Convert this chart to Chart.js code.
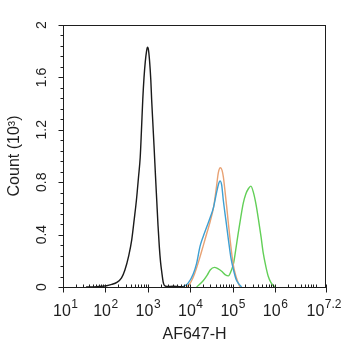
<!DOCTYPE html>
<html>
<head>
<meta charset="utf-8">
<script src="https://cdn.jsdelivr.net/npm/chart.js@4.4.1/dist/chart.umd.min.js"></script>
<style>
  html, body { margin: 0; padding: 0; background: #fff; }
  #wrap { width: 342px; height: 350px; position: relative; }
</style>
</head>
<body>
<div id="wrap"><canvas id="c" width="342" height="350"></canvas></div>
<script>
// ---- Data (AF647-H fluorescence vs count, in thousands) ----
const xTickExponents = ['1', '2', '3', '4', '5', '6', '7.2'];
const yTickLabels = ['0', '0.4', '0.8', '1.2', '1.6', '2'];
const xTitle = 'AF647-H';
const yTitle = 'Count (10³)';

const blackX = [35, 63, 107, 141, 186, 240, 288, 355, 417, 479, 537, 603, 661, 708, 759, 813, 871, 933, 977, 1023, 1096, 1175, 1230, 1318, 1413, 1514, 1622, 1738, 1862, 1995, 2138, 2291, 2455, 2818, 3981, 5012, 7079];
const blackY = [0, 0.003, 0.01, 0.02, 0.035, 0.07, 0.13, 0.24, 0.36, 0.52, 0.66, 0.84, 0.99, 1.2, 1.43, 1.6, 1.72, 1.8, 1.83, 1.82, 1.73, 1.58, 1.43, 1.24, 1.05, 0.85, 0.66, 0.47, 0.31, 0.19, 0.11, 0.04, 0.012, 0.004, 0.006, 0.004, 0];

const orangeX = [8318, 10000, 12589, 16982, 20417, 24547, 29512, 35481, 41687, 45709, 51286, 56234, 60256, 66069, 72444, 79433, 87096, 95499, 104713, 117490, 128825, 147911];
const orangeY = [0, 0.03, 0.1, 0.23, 0.32, 0.41, 0.5, 0.61, 0.77, 0.87, 0.91, 0.89, 0.84, 0.73, 0.61, 0.48, 0.36, 0.25, 0.16, 0.09, 0.05, 0];

const blueX = [6607, 8913, 11749, 14125, 16982, 20417, 24547, 29512, 35481, 41687, 46774, 50119, 54954, 60256, 69183, 79433, 91201, 104713, 120226, 134896, 162181];
const blueY = [0, 0.03, 0.1, 0.18, 0.31, 0.39, 0.46, 0.53, 0.61, 0.72, 0.79, 0.81, 0.78, 0.66, 0.51, 0.36, 0.22, 0.13, 0.06, 0.03, 0];

const greenX = [14125, 20417, 25119, 29512, 37154, 44668, 54954, 66069, 79433, 91201, 104713, 117490, 134896, 154882, 177828, 204174, 234423, 269153, 309030, 354813, 407380, 467735, 524807, 602560, 691831, 794328, 912011, 1000000];
const greenY = [0, 0.05, 0.09, 0.13, 0.15, 0.14, 0.12, 0.095, 0.085, 0.12, 0.18, 0.28, 0.41, 0.53, 0.64, 0.71, 0.75, 0.77, 0.72, 0.63, 0.51, 0.38, 0.26, 0.16, 0.08, 0.035, 0.01, 0];

const toPts = (xs, ys) => xs.map((v, i) => ({ x: v, y: ys[i] }));

const FONT = '"Liberation Sans", Arial, sans-serif';
const INK = '#1e1e1e';

const decorPlugin = {
  id: 'decor',
  afterDraw(chart) {
    const { ctx, chartArea: a, scales: { x, y } } = chart;
    ctx.save();
    ctx.strokeStyle = INK;
    ctx.lineWidth = 1;
    // frame
    ctx.strokeRect(Math.round(a.left) + 0.5, Math.round(a.top) + 0.5,
                   Math.round(a.right - a.left) - 1, Math.round(a.bottom - a.top));
    const bY = Math.round(a.bottom) + 0.5;
    const lX = Math.round(a.left) + 0.5;
    ctx.beginPath();
    // x ticks
    const xmax = x.max;
    xTickExponents.forEach(e => {
      const px = Math.round(x.getPixelForValue(Math.pow(10, parseFloat(e)))) + 0.5;
      ctx.moveTo(px, bY - 3); ctx.lineTo(px, bY + 5);
    });
    for (let n = 1; n <= 7; n++) {
      for (let k = 2; k <= 9; k++) {
        const v = k * Math.pow(10, n);
        if (v >= xmax) continue;
        const px = Math.round(x.getPixelForValue(v)) + 0.5;
        ctx.moveTo(px, bY - 3); ctx.lineTo(px, bY);
      }
    }
    // y ticks
    yTickLabels.forEach(t => {
      const py = Math.round(y.getPixelForValue(parseFloat(t))) + 0.5;
      ctx.moveTo(lX - 5, py); ctx.lineTo(lX, py);
    });
    for (let i = 1; i < 25; i++) {
      if (i % 5 === 0) continue;
      const py = Math.round(y.getPixelForValue(i * 0.08)) + 0.5;
      ctx.moveTo(lX - 3, py); ctx.lineTo(lX, py);
    }
    ctx.stroke();

    // x tick labels with superscripts
    ctx.fillStyle = INK;
    ctx.textBaseline = 'alphabetic';
    ctx.textAlign = 'left';
    xTickExponents.forEach(e => {
      const px = x.getPixelForValue(Math.pow(10, parseFloat(e)));
      ctx.font = '16px ' + FONT;
      const w1 = ctx.measureText('10').width;
      ctx.font = '12px ' + FONT;
      const w2 = ctx.measureText(e).width;
      let sx = px - (w1 + w2) / 2;
      if (sx < 53) sx = 53;
      if (sx + w1 + w2 > 341) sx = 341 - w1 - w2;
      ctx.font = '16px ' + FONT;
      ctx.fillText('10', sx, 316);
      ctx.font = '12px ' + FONT;
      ctx.fillText(e, sx + w1 + 0.5, 308);
    });

    // y tick labels rotated
    ctx.font = '14px ' + FONT;
    ctx.textAlign = 'center';
    ctx.textBaseline = 'middle';
    yTickLabels.forEach(t => {
      const py = y.getPixelForValue(parseFloat(t));
      ctx.save();
      ctx.translate(42, py);
      ctx.rotate(-Math.PI / 2);
      ctx.fillText(t, 0, 0);
      ctx.restore();
    });
    ctx.restore();
  }
};

new Chart(document.getElementById('c'), {
  type: 'line',
  data: {
    datasets: [
      { label: 'Black', data: toPts(blackX, blackY), borderColor: '#1a1a1a', borderWidth: 1.4 },
      { label: 'Blue', data: toPts(blueX, blueY), borderColor: '#3d9fd2', borderWidth: 1.4 },
      { label: 'Orange', data: toPts(orangeX, orangeY), borderColor: '#e8a274', borderWidth: 1.4 },
      { label: 'Green', data: toPts(greenX, greenY), borderColor: '#62cf57', borderWidth: 1.4 }
    ]
  },
  options: {
    responsive: false,
    animation: false,
    devicePixelRatio: 1,
    elements: {
      point: { radius: 0 },
      line: { tension: 0.35, cubicInterpolationMode: 'monotone', fill: false }
    },
    layout: { padding: { top: 25, right: 16, left: 0, bottom: 0 } },
    plugins: { legend: { display: false }, tooltip: { enabled: false } },
    scales: {
      x: {
        type: 'logarithmic',
        min: 10,
        max: Math.pow(10, 7.2),
        grid: { display: false },
        border: { display: false },
        ticks: { display: false },
        title: {
          display: true, text: xTitle, color: INK,
          font: { family: FONT, size: 16 },
          padding: { top: 0, bottom: 5.4 }
        },
        afterFit(s) { s.height = 63; }
      },
      y: {
        type: 'linear',
        min: 0,
        max: 2,
        grid: { display: false },
        border: { display: false },
        ticks: { display: false },
        title: {
          display: true, text: yTitle, color: INK,
          font: { family: FONT, size: 16 },
          padding: { top: 5.4, bottom: 0 }
        },
        afterFit(s) { s.width = 63; }
      }
    }
  },
  plugins: [decorPlugin]
});
</script>
</body>
</html>
